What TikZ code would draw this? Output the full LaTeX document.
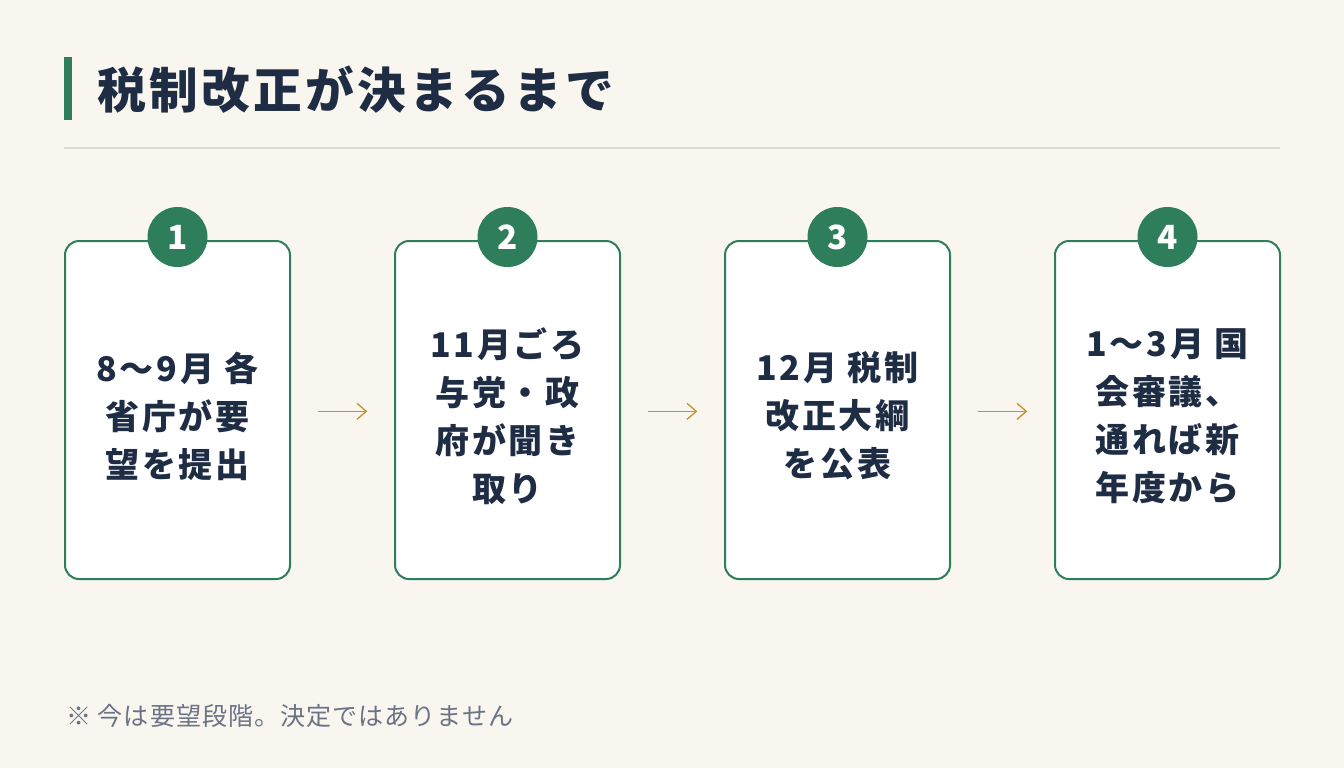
\documentclass[tikz,border=0pt]{standalone}
\usepackage{fontspec}
\usetikzlibrary{arrows.meta}
\setmainfont{Noto Sans CJK JP}
\definecolor{bg}{HTML}{F9F6EF}
\definecolor{ink}{HTML}{1F2D44}
\definecolor{grn}{HTML}{2E7D5B}
\definecolor{gold}{HTML}{C8922A}
\definecolor{rule}{HTML}{DEDBD3}
\definecolor{note}{HTML}{6B7385}
\begin{document}
\begin{tikzpicture}[x=0.75pt,y=-0.75pt,
  box/.style={draw=grn,line width=1.5pt,fill=white,rounded corners=10.5pt,minimum width=168.75pt,minimum height=253.5pt,inner sep=0pt},
  num/.style={circle,fill=grn,minimum size=45pt,inner sep=0pt,text=white,font=\bfseries\fontsize{25}{25}\selectfont},
  txt/.style={align=center,text=ink,font=\bfseries\fontsize{25.5}{36}\addfontfeature{LetterSpace=8}\selectfont},
  arr/.style={draw=gold,line width=1pt,-{Straight Barb[length=7pt,width=12pt,line width=1pt]}}]
\fill[bg] (0,0) rectangle (1344,768);
\useasboundingbox (0,0) rectangle (1344,768);
\fill[grn] (64,57) rectangle (72,120);
\node[anchor=west,text=ink,font=\bfseries\fontsize{36.5}{36.5}\addfontfeature{LetterSpace=7}\selectfont,inner sep=0pt] (title) at (97,90) {税制改正が決まるまで};
\draw[rule,line width=1.5pt] (64,148) -- (1280,148);
\foreach \i/\x/\t in {1/177.5/{8〜9月 各\\省庁が要\\望を提出},2/507.5/{11月ごろ\\与党・政\\府が聞き\\取り},3/837.5/{12月 税制\\改正大綱\\を公表},4/1167.5/{1〜3月 国\\会審議、\\通れば新\\年度から}}{
  \node[box] (b\i) at (\x,410) {};
  \node[num] (n\i) at (\x,237) {\i};
  \node[txt] (t\i) at (\x,416) {\t};
}
\foreach \a/\b in {1/2,2/3,3/4}{
  \coordinate (s\a) at ([xshift=20pt,yshift=-1pt]b\a.east);
  \coordinate (e\a) at ([xshift=-20pt,yshift=-1pt]b\b.west);
  \draw[arr] (s\a) -- (e\a);
}
\node[anchor=west,text=note,font=\fontsize{18.8}{18.8}\addfontfeature{LetterSpace=4}\selectfont,inner sep=0pt] (fn) at (66,716) {※ 今は要望段階。決定ではありません};
\end{tikzpicture}
\end{document}
